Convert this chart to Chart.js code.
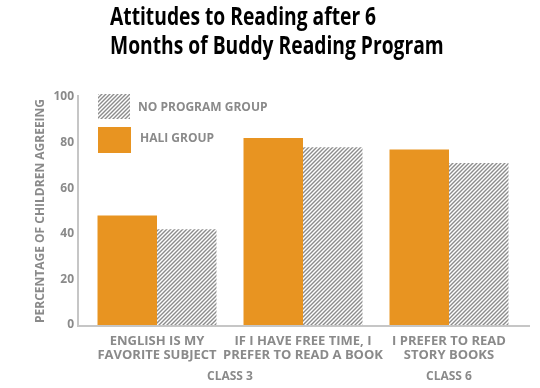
<!DOCTYPE html>
<html>
<head>
<meta charset="utf-8">
<script src="https://cdn.jsdelivr.net/npm/chart.js@4"></script>
<style>
  html, body { margin: 0; padding: 0; background: #fff; }
  #wrap { position: relative; width: 540px; height: 388px; }
  #wrap canvas { position: absolute; left: 0; top: 0; }
  #title {
    position: absolute; left: 110px; top: 1px;
    font-family: "Open Sans"; font-weight: 700; font-size: 25px; line-height: 29px;
    color: #000; white-space: nowrap;
    transform: scaleX(0.77); transform-origin: 0 0;
  }
</style>
</head>
<body>
<div id="wrap">
  <canvas id="chart" width="540" height="388"></canvas>
  <div id="title">Attitudes to Reading after 6<br>Months of Buddy Reading Program</div>
</div>
<script>
// data
const categories = [
  ['ENGLISH IS MY', 'FAVORITE SUBJECT'],
  ['IF I HAVE FREE TIME, I', 'PREFER TO READ A BOOK'],
  ['I PREFER TO READ', 'STORY BOOKS']
];
const haliValues = [48, 82, 77];
const noProgramValues = [42, 78, 71];
const classLabels = ['CLASS 3', 'CLASS 6'];
const classOfCategory = [0, 0, 1];
const seriesNames = ['HALI GROUP', 'NO PROGRAM GROUP'];

const grey = '#8a8a8a';
const orange = '#e89421';

const ctx = document.getElementById('chart').getContext('2d');

// diagonal stripes for the no program bars
function makeHatch() {
  const p = document.createElement('canvas');
  p.width = 4; p.height = 4;
  const c = p.getContext('2d');
  c.fillStyle = '#fff';
  c.fillRect(0, 0, 4, 4);
  c.strokeStyle = '#8c8c8c';
  c.lineWidth = 1.4;
  c.beginPath();
  c.moveTo(0, 4); c.lineTo(4, 0);
  c.moveTo(-1, 1); c.lineTo(1, -1);
  c.moveTo(3, 5); c.lineTo(5, 3);
  c.stroke();
  return ctx.createPattern(p, 'repeat');
}
const hatch = makeHatch();

// axis lines, legend inside the plot and class labels under the axis
const decorations = {
  id: 'decorations',
  afterDraw(chart) {
    const { ctx, chartArea: a, scales: { x, y } } = chart;
    ctx.save();
    ctx.strokeStyle = '#c6c6c6';
    ctx.lineWidth = 2;
    ctx.beginPath();
    ctx.moveTo(a.left - 6, y.getPixelForValue(100) - 2);
    ctx.lineTo(a.left - 6, a.bottom + 1);
    ctx.lineTo(a.right + 8, a.bottom + 1);
    ctx.stroke();

    // legend (no program first)
    const lx = a.left + 14;
    ctx.fillStyle = hatch;
    ctx.fillRect(lx, a.top - 3, 32, 25);
    ctx.fillStyle = orange;
    ctx.fillRect(lx, a.top + 30, 33, 26);
    ctx.fillStyle = grey;
    ctx.font = 'bold 12px "Open Sans"';
    ctx.textBaseline = 'middle';
    ctx.textAlign = 'left';
    ctx.fillText(seriesNames[1], lx + 40, a.top + 11);
    ctx.fillText(seriesNames[0], lx + 42, a.top + 42);

    // class group labels
    ctx.textAlign = 'center';
    classLabels.forEach((lbl, g) => {
      const idx = classOfCategory.map((c, i) => c === g ? i : -1).filter(i => i >= 0);
      const cx = idx.reduce((s, i) => s + x.getPixelForValue(i), 0) / idx.length;
      ctx.fillText(lbl, cx, a.bottom + 52);
    });
    ctx.restore();
  }
};

new Chart(ctx, {
  type: 'bar',
  data: {
    labels: categories,
    datasets: [
      { label: seriesNames[0], data: haliValues, backgroundColor: orange },
      { label: seriesNames[1], data: noProgramValues, backgroundColor: hatch }
    ]
  },
  options: {
    responsive: false,
    animation: false,
    layout: { padding: { top: 97, right: 18, left: 0, bottom: 0 } },
    datasets: { bar: { categoryPercentage: 0.815, barPercentage: 1 } },
    plugins: { legend: { display: false }, tooltip: { enabled: false } },
    scales: {
      x: {
        grid: { display: false },
        border: { display: false },
        afterFit: s => { s.height = 63; },
        ticks: {
          color: grey, padding: 1, maxRotation: 0, autoSkip: false,
          font: { family: 'Open Sans', weight: 'bold', size: 13, lineHeight: 1.1 }
        }
      },
      y: {
        min: 0, max: 100,
        grid: { display: false, drawTicks: false },
        border: { display: false },
        afterFit: s => { s.width = 84; },
        ticks: {
          stepSize: 20, color: grey, padding: 10,
          font: { family: 'Open Sans', weight: 'bold', size: 12 }
        },
        title: {
          display: true, text: 'PERCENTAGE OF CHILDREN AGREEING', color: grey,
          padding: { top: 33, bottom: 0 },
          font: { family: 'Open Sans', weight: 'bold', size: 12 }
        }
      }
    }
  },
  plugins: [decorations]
});
</script>
</body>
</html>
